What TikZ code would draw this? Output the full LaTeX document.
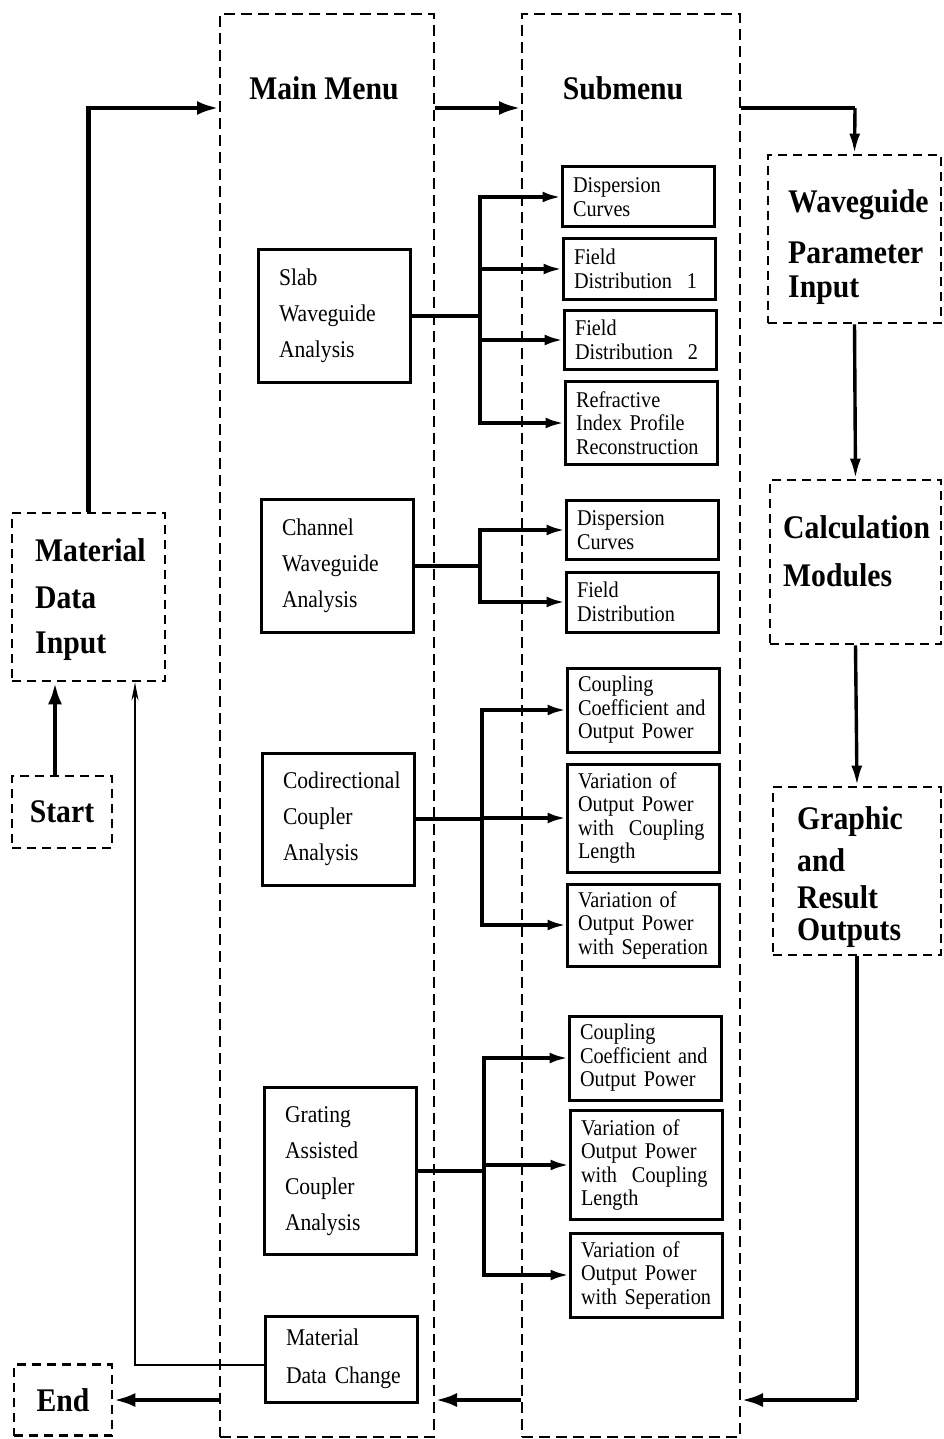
\documentclass[tikz,border=0pt]{standalone}
\usepackage{fontspec}
\setmainfont{Liberation Serif}[FakeStretch=0.9]
\usetikzlibrary{arrows.meta}
\hyphenpenalty=10000
\exhyphenpenalty=10000
\tikzset{
  dbox/.style={draw, line width=2.8pt, dash pattern=on 9pt off 6pt, inner sep=0pt},
  menubox/.style={draw, line width=2pt, dash pattern=on 11pt off 6pt, inner sep=0pt},
  sbox/.style={draw, line width=3pt, minimum width=152pt, text width=130pt, inner xsep=11pt, inner ysep=0pt, align=left, font=\fontsize{22.5}{23.5}\selectfont},
  mbox/.style={draw, line width=3pt, minimum width=152pt, text width=110pt, inner xsep=21pt, inner ysep=0pt, align=left, font=\fontsize{24}{36}\selectfont},
  bigt/.style={font=\fontsize{33}{36}\bfseries\selectfont, inner sep=0pt, anchor=west},
  titlet/.style={font=\fontsize{33}{36}\bfseries\selectfont, inner sep=0pt},
  thickarr/.style={line width=4.5pt, -{Latex[length=22pt,width=14pt]}},
  medarr/.style={line width=3.4pt, -{Latex[length=20pt,width=11pt]}},
  busline/.style={line width=3.2pt},
  busarr/.style={line width=3.2pt, -{Latex[length=18pt,width=11pt]}},
  thinarr/.style={line width=1.6pt, -{Stealth[length=18pt,width=7pt]}},
}
\begin{document}
\begin{tikzpicture}[x=1pt,y=-1pt]
\useasboundingbox (0,0) rectangle (943,1439);
% outer dashed columns
\node[menubox, minimum width=214pt, minimum height=1423pt] (mm) at (327,725.5) {};
\node[menubox, minimum width=218pt, minimum height=1423pt] (sub) at (631,725.5) {};
\node[titlet] (mmt) at (324,88) {Main Menu};
\node[titlet] (subt) at (623,88) {Submenu};
% left side boxes
\node[dbox, minimum width=153pt, minimum height=168pt] (mdi) at (88.5,597) {};
\node[bigt] (mdi1) at (35,550) {Material};
\node[bigt] (mdi2) at (35,598) {Data};
\node[bigt] (mdi3) at (35,646) {Input};
\node[dbox, minimum width=100pt, minimum height=72pt, font=\fontsize{33}{36}\bfseries\selectfont] (start) at (62,812) {Start};
\node[dbox, minimum width=98pt, minimum height=71pt, font=\fontsize{33}{36}\bfseries\selectfont] (end) at (63,1400) {End};
% right side boxes
\node[dbox, minimum width=173pt, minimum height=168pt] (wpi) at (854.5,239) {};
\node[bigt] (wpi1) at (788,205) {Waveguide};
\node[bigt] (wpi2) at (788,253) {Parameter};
\node[bigt] (wpi3) at (788,290) {Input};
\node[dbox, minimum width=171pt, minimum height=164pt] (cm) at (855.5,562) {};
\node[bigt] (cm1) at (783,527) {Calculation};
\node[bigt] (cm2) at (783,575) {Modules};
\node[dbox, minimum width=168pt, minimum height=168pt] (gro) at (857,871) {};
\node[bigt] (gro1) at (797,822) {Graphic};
\node[bigt] (gro2) at (797,860) {and};
\node[bigt] (gro3) at (797,897) {Result};
\node[bigt] (gro4) at (797,933) {Outputs};
% main menu boxes
\node[mbox, minimum height=132pt] (slab) at (334,316) {Slab\\Waveguide\\Analysis};
\node[mbox, minimum height=133pt] (chan) at (337,566) {Channel\\Waveguide\\Analysis};
\node[mbox, minimum height=132pt] (codir) at (338,819) {\mbox{Codirectional}\\Coupler\\Analysis};
\node[mbox, minimum height=167pt] (grat) at (340,1171) {Grating\\Assisted\\Coupler\\Analysis};
\node[mbox, minimum height=86pt, font=\fontsize{24}{38}\selectfont] (mdc) at (341,1359) {Material\\\mbox{Data Change}};
% submenu boxes
\node[sbox, minimum height=60pt] (s11) at (638,197) {Dispersion\\Curves};
\node[sbox, minimum height=60pt] (s12) at (639,269) {Field\\\mbox{Distribution\ \ 1}};
\node[sbox, minimum height=59pt] (s13) at (640,340) {Field\\\mbox{Distribution\ \ 2}};
\node[sbox, minimum height=83pt] (s14) at (641,423) {Refractive\\\mbox{Index Profile}\\\mbox{Reconstruction}};
\node[sbox, minimum height=59pt] (s21) at (642,530) {Dispersion\\Curves};
\node[sbox, minimum height=60pt] (s22) at (642,602) {Field\\Distribution};
\node[sbox, minimum height=84pt] (s31) at (643,710) {Coupling\\\mbox{Coefficient and}\\\mbox{Output Power}};
\node[sbox, minimum height=108pt] (s32) at (643,818) {\mbox{Variation of}\\\mbox{Output Power}\\\mbox{with\ \ Coupling}\\Length};
\node[sbox, minimum height=82pt] (s33) at (643,925) {\mbox{Variation of}\\\mbox{Output Power}\\\mbox{with Seperation}};
\node[sbox, minimum height=84pt] (s41) at (645,1058) {Coupling\\\mbox{Coefficient and}\\\mbox{Output Power}};
\node[sbox, minimum height=109pt] (s42) at (646,1165) {\mbox{Variation of}\\\mbox{Output Power}\\\mbox{with\ \ Coupling}\\Length};
\node[sbox, minimum height=84pt] (s43) at (646,1275) {\mbox{Variation of}\\\mbox{Output Power}\\\mbox{with Seperation}};
% helper coordinates
\coordinate (yt) at (0,108);
\coordinate (yb) at (0,1400);
\coordinate (ym) at (0,1365);
\coordinate (bx1) at (480,0);
\coordinate (bx2) at (480,0);
\coordinate (bx3) at (482,0);
\coordinate (bx4) at (484,0);
\coordinate (rx) at (855,0);
\coordinate (lx) at (135,0);
\coordinate (sx) at (55,0);
% main flow
\draw[thickarr] (mdi.north) -- (mdi.north |- yt) -- (mm.west |- yt);
\draw[thickarr] (mm.east |- yt) -- (sub.west |- yt);
\draw[line width=4.5pt] (sub.east |- yt) -- (rx |- yt);
\draw[medarr] (rx |- yt) -- (wpi.north);
\draw[medarr] (wpi.south) -- (cm.north);
\draw[medarr] (cm.south) -- (gro.north);
\draw[line width=3.4pt] (gro.south) -- (gro.south |- yb);
\draw[thickarr] (gro.south |- yb) -- (sub.east |- yb);
\draw[thickarr] (sub.west |- yb) -- (mm.east |- yb);
\draw[thickarr] (mm.west |- yb) -- (end.east);
\draw[thickarr] (sx |- start.north) -- (sx |- mdi.south);
\draw[thinarr] (mdc.west |- ym) -- (lx |- ym) -- (lx |- mdi.south);
% buses
\draw[busline] (slab.east) -- (slab.east -| bx1);
\draw[busarr] (slab.east -| bx1) |- (s11.west);
\draw[busarr] (slab.east -| bx1) |- (s12.west);
\draw[busarr] (slab.east -| bx1) |- (s13.west);
\draw[busarr] (slab.east -| bx1) |- (s14.west);
\draw[busline] (chan.east) -- (chan.east -| bx2);
\draw[busarr] (chan.east -| bx2) |- (s21.west);
\draw[busarr] (chan.east -| bx2) |- (s22.west);
\draw[busline] (codir.east) -- (codir.east -| bx3);
\draw[busarr] (codir.east -| bx3) |- (s31.west);
\draw[busarr] (codir.east -| bx3) |- (s32.west);
\draw[busarr] (codir.east -| bx3) |- (s33.west);
\draw[busline] (grat.east) -- (grat.east -| bx4);
\draw[busarr] (grat.east -| bx4) |- (s41.west);
\draw[busarr] (grat.east -| bx4) |- (s42.west);
\draw[busarr] (grat.east -| bx4) |- (s43.west);
\end{tikzpicture}
\end{document}
